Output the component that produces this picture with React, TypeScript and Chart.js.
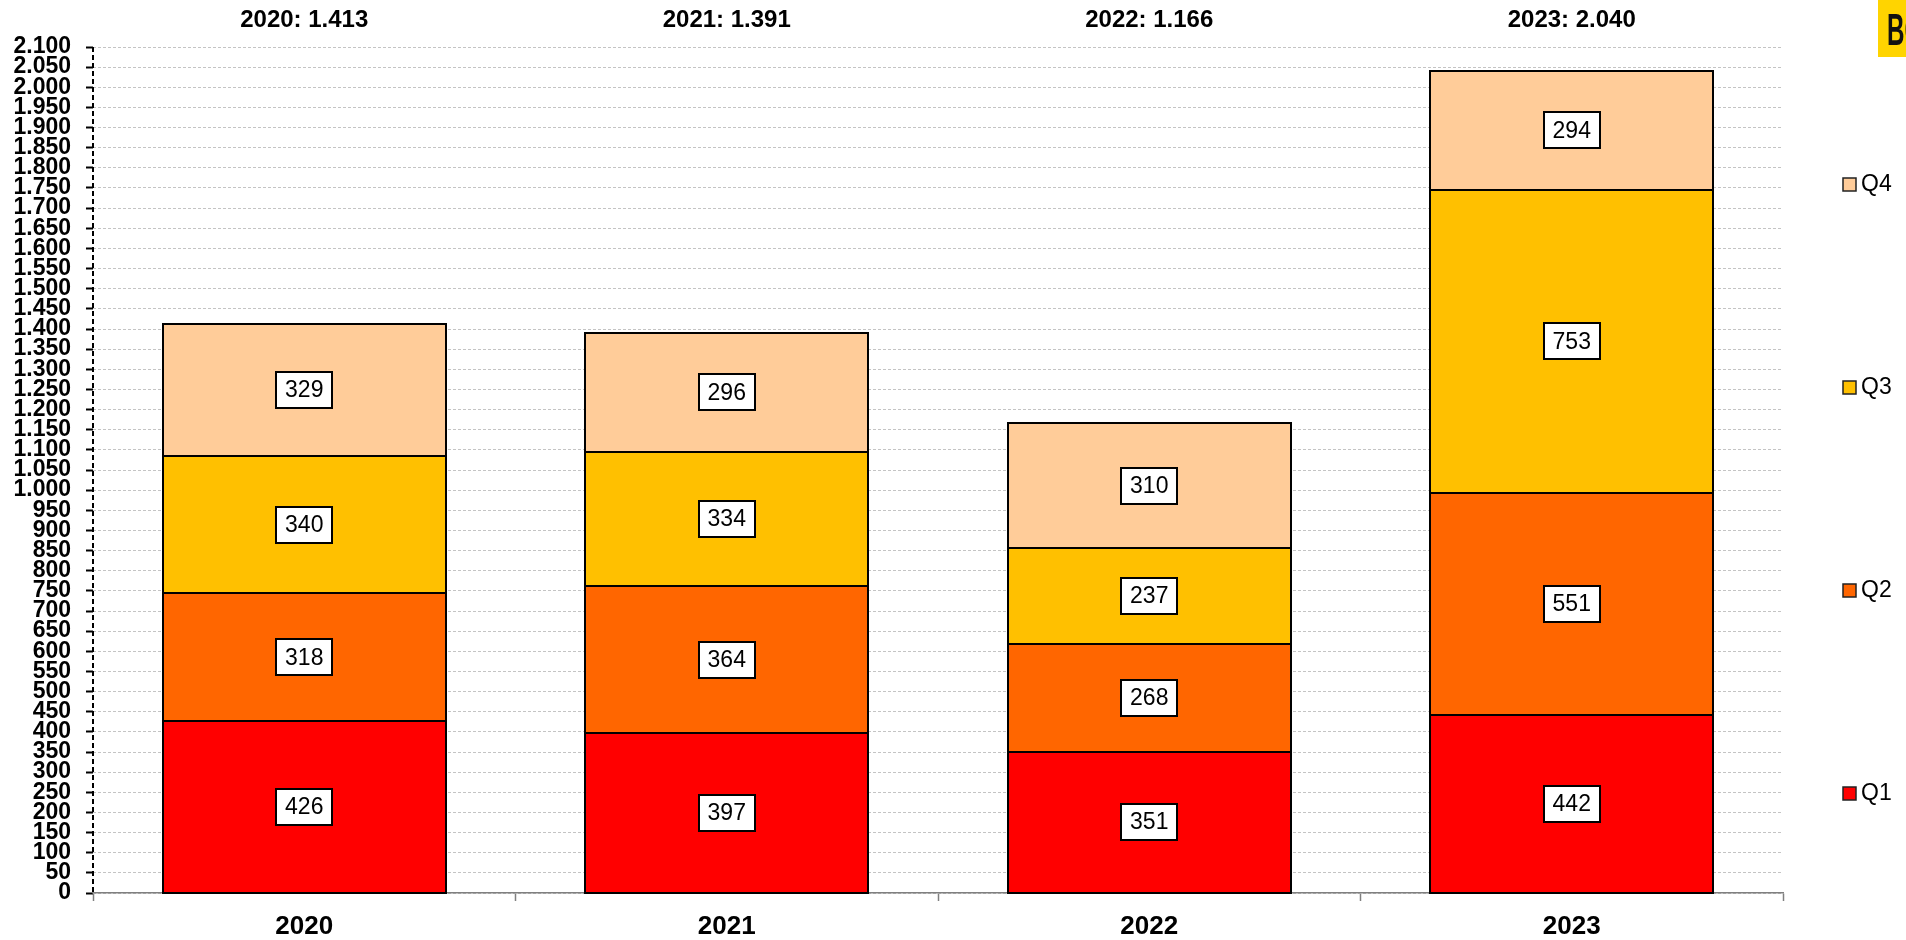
import React, { useEffect, useRef } from "react";
import { Chart, registerables } from "chart.js";

Chart.register(...registerables);

const categories = ["2020", "2021", "2022", "2023"];
const q1 = [426, 397, 351, 442];
const q2 = [318, 364, 268, 551];
const q3 = [340, 334, 237, 753];
const q4 = [329, 296, 310, 294];
const seriesNames = ["Q1", "Q2", "Q3", "Q4"];
const seriesColors = ["#FF0000", "#FF6600", "#FFC000", "#FFCC99"];
const yMax = 2100;
const yStep = 50;

const FONT = '"Liberation Sans", Arial, Helvetica, sans-serif';

function fmt(n: number): string {
  const s = String(Math.round(n));
  return s.replace(/\B(?=(\d{3})+(?!\d))/g, ".");
}

const overlay = {
  id: "overlay",
  afterDatasetsDraw(chart: any) {
    const ctx = chart.ctx;
    ctx.save();
    // bar outlines
    chart.data.datasets.forEach((ds: any, di: number) => {
      const meta = chart.getDatasetMeta(di);
      meta.data.forEach((bar: any) => {
        const { x, y, base, width } = bar.getProps(["x", "y", "base", "width"], true);
        const l = Math.round(x - width / 2);
        const r = Math.round(x + width / 2);
        const t = Math.round(y);
        const b = Math.round(base);
        ctx.strokeStyle = "#000";
        ctx.lineWidth = 2;
        ctx.strokeRect(l, t, r - l, b - t);
      });
    });
    // value boxes
    chart.data.datasets.forEach((ds: any, di: number) => {
      const meta = chart.getDatasetMeta(di);
      meta.data.forEach((bar: any, i: number) => {
        const { x, y, base } = bar.getProps(["x", "y", "base"], true);
        const cy = (y + base) / 2;
        const text = String(ds.data[i]);
        ctx.font = "23px " + FONT;
        const w = Math.round(ctx.measureText(text).width + 18);
        const h = 36;
        const bx = Math.round(x - w / 2);
        const by = Math.round(cy - h / 2);
        ctx.fillStyle = "#fff";
        ctx.fillRect(bx, by, w, h);
        ctx.strokeStyle = "#000";
        ctx.lineWidth = 2;
        ctx.strokeRect(bx, by, w, h);
        ctx.fillStyle = "#000";
        ctx.textAlign = "center";
        ctx.textBaseline = "middle";
        ctx.fillText(text, x, cy + 1);
      });
    });
    ctx.restore();
  },
  afterDraw(chart: any) {
    const ctx = chart.ctx;
    const xs = chart.scales.x;
    const area = chart.chartArea;
    ctx.save();
    // dashed y axis line
    ctx.strokeStyle = "#000";
    ctx.lineWidth = 2;
    ctx.setLineDash([5, 3]);
    ctx.beginPath();
    ctx.moveTo(area.left, area.top);
    ctx.lineTo(area.left, area.bottom);
    ctx.stroke();
    ctx.setLineDash([]);
    // totals titles
    ctx.font = "bold 24px " + FONT;
    ctx.fillStyle = "#000";
    ctx.textAlign = "center";
    ctx.textBaseline = "middle";
    categories.forEach((c, i) => {
      const total = q1[i] + q2[i] + q3[i] + q4[i];
      ctx.fillText(c + ": " + fmt(total), xs.getPixelForValue(i), 20);
    });
    // legend
    const order = [3, 2, 1, 0];
    order.forEach((si, k) => {
      const cy = 184 + k * 203;
      ctx.fillStyle = seriesColors[si];
      ctx.fillRect(1843, cy - 6, 13, 13);
      ctx.strokeStyle = "#222";
      ctx.lineWidth = 1.5;
      ctx.strokeRect(1843, cy - 6, 13, 13);
      ctx.fillStyle = "#000";
      ctx.font = "23px " + FONT;
      ctx.textAlign = "left";
      ctx.textBaseline = "middle";
      ctx.fillText(seriesNames[si], 1861, cy + 1);
    });
    // logo fragment
    ctx.fillStyle = "#FFD400";
    ctx.fillRect(1878, 0, 28, 57);
    ctx.fillStyle = "#111";
    ctx.font = "bold 44px " + FONT;
    ctx.textAlign = "left";
    ctx.textBaseline = "alphabetic";
    ctx.save();
    ctx.translate(1887, 45);
    ctx.scale(0.55, 1);
    ctx.fillText("BO", 0, 0);
    ctx.restore();
    ctx.restore();
  },
};

export default function App() {
  const ref = useRef<HTMLCanvasElement | null>(null);
  useEffect(() => {
    document.body.style.margin = "0";
    const canvas = ref.current;
    if (!canvas) return;
    const data = [q1, q2, q3, q4];
    const chart = new Chart(canvas, {
      type: "bar",
      data: {
        labels: categories,
        datasets: data.map((d, i) => ({
          label: seriesNames[i],
          data: d,
          backgroundColor: seriesColors[i],
          borderWidth: 0,
          categoryPercentage: 1,
          barPercentage: 0.67,
        })),
      },
      options: {
        responsive: false,
        animation: false,
        devicePixelRatio: 1,
        layout: { padding: { top: 47, right: 123, left: 0, bottom: 0 } },
        plugins: {
          legend: { display: false },
          tooltip: { enabled: false },
          title: { display: false },
        },
        scales: {
          x: {
            stacked: true,
            grid: {
              offset: true,
              drawOnChartArea: false,
              drawTicks: true,
              tickLength: 8,
              tickColor: "#808080",
              tickWidth: 1.5,
            },
            border: { display: true, color: "#808080", width: 1.5 },
            ticks: {
              color: "#000",
              font: { family: FONT, size: 26, weight: "bold" },
              padding: 10,
            },
            afterFit(scale: any) {
              scale.height = 47;
            },
          },
          y: {
            stacked: true,
            min: 0,
            max: yMax,
            grid: {
              color: "#c4c4c4",
              lineWidth: 1,
              tickColor: "#000",
              tickLength: 7,
              tickWidth: 2,
              tickBorderDash: [],
            },
            border: { display: false, dash: [3, 2] },
            ticks: {
              stepSize: yStep,
              autoSkip: false,
              color: "#000",
              padding: 15,
              font: { family: FONT, size: 23, weight: "bold" },
              callback: (v: any) => fmt(Number(v)),
            },
            afterFit(scale: any) {
              scale.width = 93;
            },
          },
        },
      },
      plugins: [overlay],
    } as any);
    return () => chart.destroy();
  }, []);
  return (
    <div style={{ width: 1906, height: 940 }}>
      <canvas ref={ref} width={1906} height={940} style={{ display: "block" }} />
    </div>
  );
}
